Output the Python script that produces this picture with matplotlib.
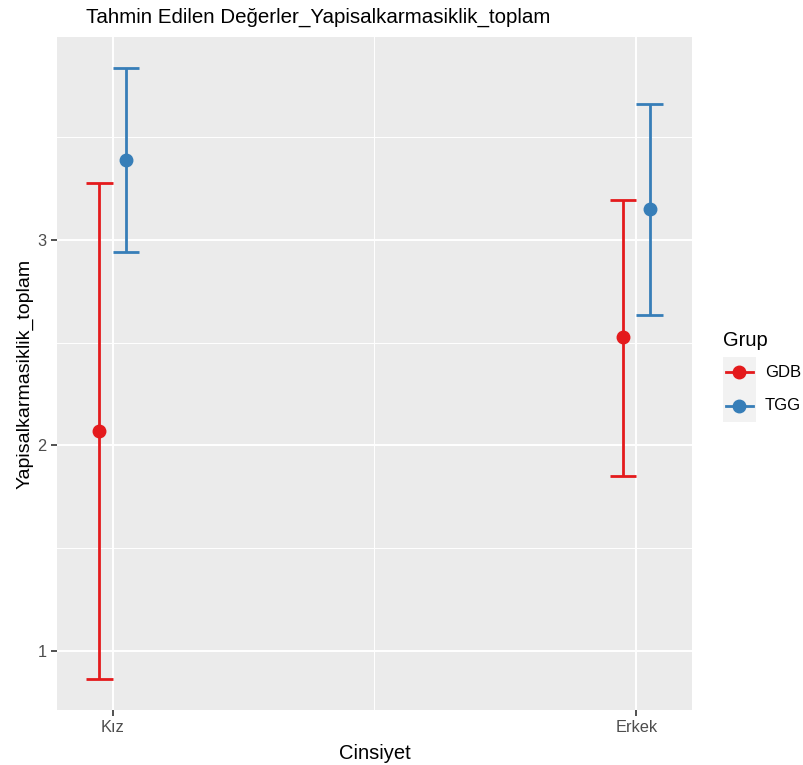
import matplotlib
matplotlib.use("Agg")
import matplotlib.pyplot as plt
from matplotlib.lines import Line2D
from matplotlib.patches import Rectangle
import numpy as np

plt.rcParams["font.family"] = ["Liberation Sans", "DejaVu Sans"]

# estimated values per sex and group
categories = ["Kız", "Erkek"]
groups = ["GDB", "TGG"]
colors = {"GDB": "#E41A1C", "TGG": "#377EB8"}
estimate = {"GDB": [2.07, 2.53], "TGG": [3.39, 3.15]}
lower = {"GDB": [0.86, 1.85], "TGG": [2.94, 2.635]}
upper = {"GDB": [3.28, 3.195], "TGG": [3.84, 3.665]}

W, H = 804, 765
fig = plt.figure(figsize=(W / 100, H / 100), dpi=100)
ax = fig.add_axes([57 / W, 1 - 710 / H, (692 - 57) / W, (710 - 37) / H])
ax.set_facecolor("#EBEBEB")

dodge = 0.0255
cap = 0.0255
xpos = np.arange(1, len(categories) + 1)
for i, g in enumerate(groups):
    x = xpos + (i - 0.5) * 2 * dodge
    c = colors[g]
    for xi, lo, hi in zip(x, lower[g], upper[g]):
        ax.plot([xi, xi], [lo, hi], color=c, lw=2.0, solid_capstyle="butt", zorder=3)
        ax.plot([xi - cap, xi + cap], [lo, lo], color=c, lw=2.0, solid_capstyle="butt", zorder=3)
        ax.plot([xi - cap, xi + cap], [hi, hi], color=c, lw=2.0, solid_capstyle="butt", zorder=3)
    ax.plot(x, estimate[g], "o", color=c, ms=9, zorder=4)

# ggplot-like 5% expansion
lo_all = min(min(v) for v in lower.values())
hi_all = max(max(v) for v in upper.values())
span = hi_all - lo_all
ax.set_ylim(lo_all - 0.05 * span, hi_all + 0.05 * span)
xl, xr = 1 - dodge - cap, 2 + dodge + cap
ax.set_xlim(xl - 0.05 * (xr - xl), xr + 0.05 * (xr - xl))

ax.set_xticks(xpos)
ax.set_xticklabels(categories)
ax.set_yticks([1, 2, 3])
ax.set_xticks([1.5], minor=True)
ax.set_yticks([1.5, 2.5, 3.5], minor=True)
ax.grid(which="major", color="white", lw=1.4)
ax.grid(which="minor", color="white", lw=0.7)
ax.set_axisbelow(True)
for s in ax.spines.values():
    s.set_visible(False)
ax.tick_params(which="major", length=4, width=1.2, color="#333333",
               labelcolor="#4D4D4D", labelsize=11.8)
ax.tick_params(which="minor", length=0)

ax.set_xlabel("Cinsiyet", fontsize=14.5, labelpad=6)
ax.set_ylabel("Yapisalkarmasiklik_toplam", fontsize=14, labelpad=3)
fig.text(86 / W, 1 - 17 / H, "Tahmin Edilen Değerler_Yapisalkarmasiklik_toplam",
         fontsize=14.8, ha="left", va="center")

# legend
fig.text(723 / W, 1 - 340 / H, "Grup", fontsize=14.5, ha="left", va="center")
fig.add_artist(Rectangle((723 / W, 1 - 422 / H), 33 / W, 65 / H,
                         transform=fig.transFigure, facecolor="#F2F2F2", edgecolor="none"))
for g, y in zip(groups, [372, 406]):
    fy = 1 - y / H
    fig.add_artist(Line2D([726 / W, 753 / W], [fy, fy], color=colors[g], lw=2.0,
                          transform=fig.transFigure))
    fig.add_artist(Line2D([739.5 / W], [fy], color=colors[g], marker="o", ms=9,
                          transform=fig.transFigure))
    fig.text(765 / W, fy, g, fontsize=12, ha="left", va="center")

fig.savefig("out.png", dpi=100)
